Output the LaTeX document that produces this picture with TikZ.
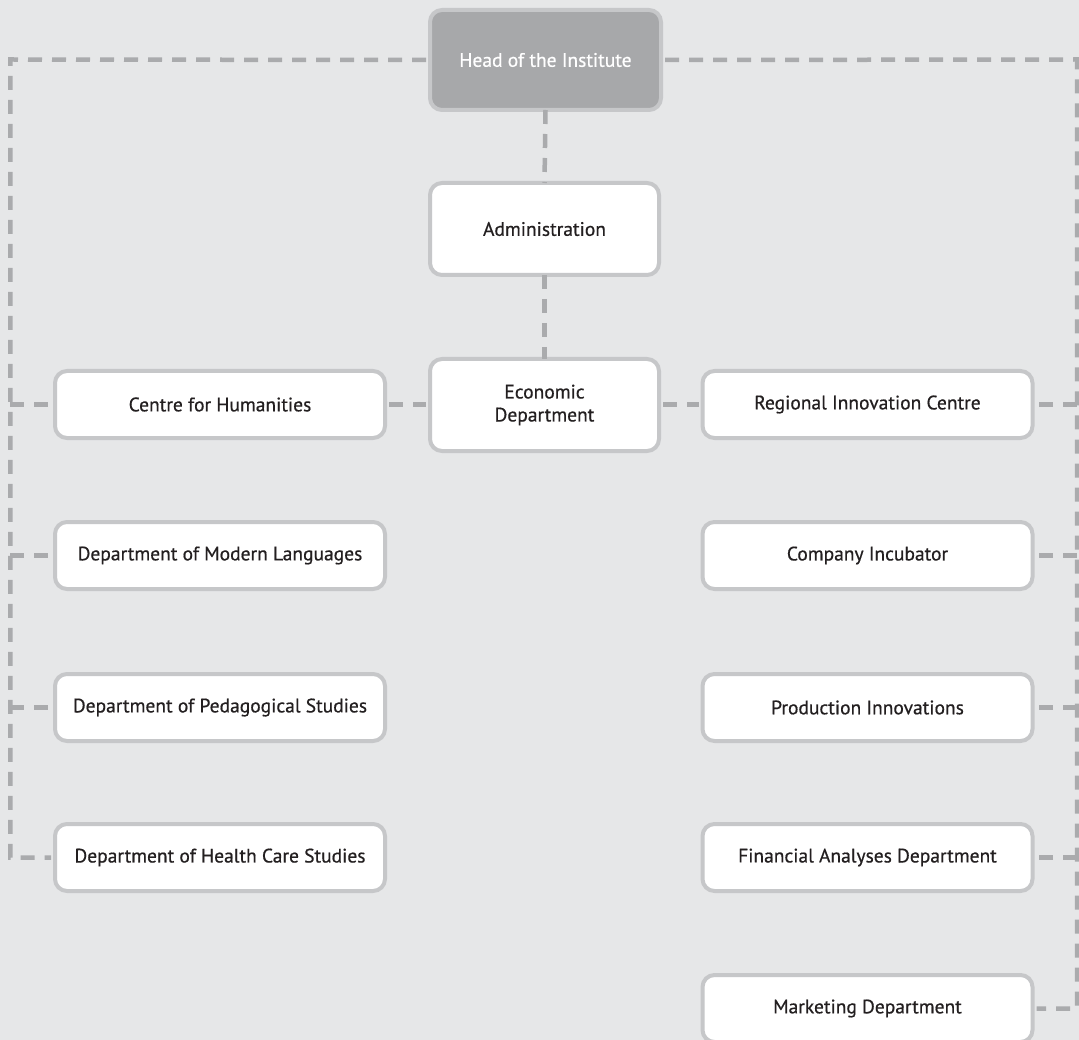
\documentclass[tikz,border=0pt]{standalone}
\usepackage{fontspec}
\setmainfont{PT Sans}
\newfontfamily\medfont{PT Sans}[FakeBold=0.6]
\definecolor{bg}{HTML}{E6E7E8}
\definecolor{boxedge}{HTML}{C6C7C9}
\definecolor{headfill}{HTML}{A7A8AA}
\definecolor{dash}{HTML}{AAABAD}
\definecolor{txt}{HTML}{231F20}
\tikzset{
  box/.style={draw=boxedge, line width=4pt, fill=white, rounded corners=12pt,
    inner sep=0pt, align=center, text=txt, font=\medfont\fontsize{19.5}{23}\selectfont},
  sidebox/.style={box, minimum width=330pt, minimum height=67pt},
  midbox/.style={box, minimum width=229pt, minimum height=92pt},
  headbox/.style={box, fill=headfill, text=white, minimum width=231pt, minimum height=100pt},
  conn/.style={draw=dash, line width=4.5pt, dash pattern=on 14pt off 10pt}
}
\begin{document}
\begin{tikzpicture}[x=1pt,y=-1pt]
\fill[bg] (0,0) rectangle (1079,1040);
\useasboundingbox (0,0) rectangle (1079,1040);
\clip (0,0) rectangle (1079,1040);
% nodes
\node[headbox] (head) at (545.5,60) {Head of the Institute};
\node[midbox] (admin) at (544.5,229) {Administration};
\node[midbox] (econ) at (544.5,405) {Economic\\Department};
\node[sidebox] (hum) at (220,404.5) {Centre for Humanities};
\node[sidebox] (lang) at (220,555.5) {Department of Modern Languages};
\node[sidebox] (ped) at (220,707.5) {Department of Pedagogical Studies};
\node[sidebox] (health) at (220,857.5) {Department of Health Care Studies};
\node[sidebox] (ric) at (867.5,404.5) {Regional Innovation Centre};
\node[sidebox] (inc) at (867.5,555.5) {Company Incubator};
\node[sidebox] (prod) at (867.5,707.5) {Production Innovations};
\node[sidebox] (fin) at (867.5,857.5) {Financial Analyses Department};
\node[sidebox] (mkt) at (867.5,1008.5) {Marketing Department};
% corner coordinates
\coordinate (tl) at (10.3,59.5);
\coordinate (tr) at (1077,59.5);
% connectors
\draw[conn] ([xshift=-2pt]head.west) -- (tl) |- ([xshift=-2pt]health.west);
\foreach \n in {hum,lang,ped} \draw[conn] (tl |- \n.west) -- ([xshift=-2pt]\n.west);
\draw[conn] ([xshift=2pt]head.east) -- (tr) |- ([xshift=2pt]mkt.east);
\foreach \n in {ric,inc,prod,fin} \draw[conn] (tr |- \n.east) -- ([xshift=2pt]\n.east);
\draw[conn] ([yshift=2pt]head.south) -- ([yshift=-2pt]admin.north);
\draw[conn] ([yshift=2pt]admin.south) -- ([yshift=-2pt]econ.north);
\draw[conn] ([xshift=2pt]hum.east) -- ([xshift=-2pt]econ.west |- hum.east);
\draw[conn] ([xshift=2pt]econ.east |- ric.west) -- ([xshift=-2pt]ric.west);
\end{tikzpicture}
\end{document}
